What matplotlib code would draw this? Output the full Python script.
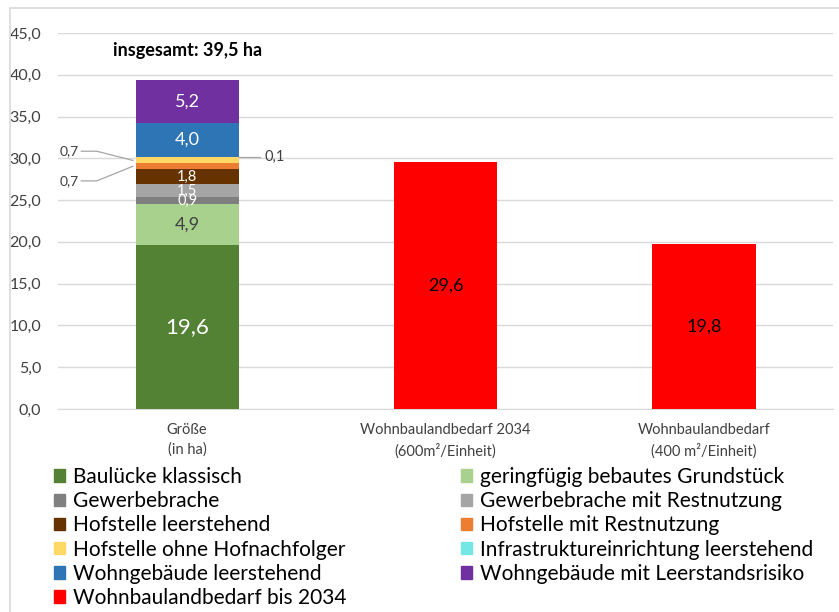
import matplotlib
matplotlib.use("Agg")
import matplotlib.pyplot as plt
from matplotlib.patches import Rectangle, Patch
import numpy as np

plt.rcParams['font.family'] = ['Lato', 'DejaVu Sans']

categories = ["Größe\n(in ha)", "Wohnbaulandbedarf 2034\n(600m²/Einheit)", "Wohnbaulandbedarf\n(400 m²/Einheit)"]
stack_names = ["Baulücke klassisch", "geringfügig bebautes Grundstück", "Gewerbebrache",
               "Gewerbebrache mit Restnutzung", "Hofstelle leerstehend", "Hofstelle mit Restnutzung",
               "Hofstelle ohne Hofnachfolger", "Infrastruktureinrichtung leerstehend",
               "Wohngebäude leerstehend", "Wohngebäude mit Leerstandsrisiko"]
stack_values = [19.6, 4.9, 0.9, 1.5, 1.8, 0.7, 0.7, 0.1, 4.0, 5.2]
stack_colors = ["#548235", "#A9D18E", "#7F7F7F", "#A5A5A5", "#663300", "#ED7D31",
                "#FFD966", "#75E6E6", "#2E75B6", "#7030A0"]
label_colors = ["white", "#404040", "white", "white", "white", None, None, None, "white", "white"]
label_sizes = [16, 13, 10.5, 10.5, 10.5, 0, 0, 0, 13, 13]
demand_name = "Wohnbaulandbedarf bis 2034"
demand_values = [29.6, 19.8]
demand_color = "#FF0000"
total_label = "insgesamt: 39,5 ha"
yticks = [0, 5, 10, 15, 20, 25, 30, 35, 40, 45]

fig = plt.figure(figsize=(8.39, 6.12), dpi=100)
ax = fig.add_axes([58/839, 1-409/612, (833-58)/839, (409-33)/612])

fmt = lambda v: f"{v:.1f}".replace(".", ",")

x = np.arange(len(categories))
width = 0.40
bottom = 0.0
for name, v, c, lc, ls in zip(stack_names, stack_values, stack_colors, label_colors, label_sizes):
    ax.bar(x[0], v, width, bottom=bottom, color=c, label=name, zorder=3)
    if lc is not None:
        ax.text(x[0], bottom + v/2, fmt(v), ha="center", va="center", color=lc, fontsize=ls, zorder=4)
    bottom += v

ax.bar(x[1:], demand_values, width, color=demand_color, label=demand_name, zorder=3)
for xi, v in zip(x[1:], demand_values):
    ax.text(xi, v/2, fmt(v), ha="center", va="center", color="black", fontsize=13, zorder=4)

# leader-line labels for small segments
cum = np.cumsum([0] + stack_values)
lc_gray = "#A6A6A6"
c6 = cum[6] + stack_values[6]/2
ax.plot([x[0]-width/2 - 0.21, x[0]-width/2 - 0.15, x[0]-width/2 - 0.01], [30.85, 30.85, c6],
        color=lc_gray, lw=0.9, zorder=4, clip_on=False)
ax.text(x[0]-width/2 - 0.22, 30.85, fmt(stack_values[6]), ha="right", va="center", color="#404040", fontsize=10)
c5 = cum[5] + stack_values[5]/2
ax.plot([x[0]-width/2 - 0.21, x[0]-width/2 - 0.15, x[0]-width/2 - 0.01], [27.3, 27.3, c5],
        color=lc_gray, lw=0.9, zorder=4, clip_on=False)
ax.text(x[0]-width/2 - 0.22, 27.3, fmt(stack_values[5]), ha="right", va="center", color="#404040", fontsize=10)
c7 = cum[7] + stack_values[7]/2
ax.plot([x[0]+width/2, x[0]+width/2 + 0.08], [c7, c7], color=lc_gray, lw=0.9, zorder=4)
ax.text(x[0]+width/2 + 0.10, c7, fmt(stack_values[7]), ha="left", va="center", color="#404040", fontsize=10.5)

ax.text(x[0], 42.9, total_label, ha="center", va="center", fontsize=13, fontweight="bold", color="black")

ax.set_xlim(-0.5, 2.5)
ax.set_ylim(0, 45)
ax.set_yticks(yticks)
ax.set_yticklabels([fmt(v) for v in yticks], fontsize=11.5, color="#404040")
ax.set_xticks(x)
ax.set_xticklabels(categories, fontsize=10.5, color="#404040", linespacing=1.5)
ax.tick_params(axis="both", length=0)
ax.tick_params(axis="x", pad=10)
ax.tick_params(axis="y", pad=12)
ax.grid(axis="y", color="#D9D9D9", lw=1, zorder=0)
for s in ["top", "right", "left"]:
    ax.spines[s].set_visible(False)
ax.spines["bottom"].set_color("#D9D9D9")

# legend (two columns, row-wise reading order)
col1 = [0, 2, 4, 6, 8]
col2 = [1, 3, 5, 7, 9]
handles = [Patch(color=stack_colors[i], label=stack_names[i]) for i in col1]
handles.append(Patch(color=demand_color, label=demand_name))
handles += [Patch(color=stack_colors[i], label=stack_names[i]) for i in col2]
leg = fig.legend(handles=handles, ncol=2, loc="upper left", bbox_to_anchor=(54/839, 1-467/612),
                 frameon=False, fontsize=15, handlelength=0.55, handleheight=0.55, handletextpad=0.35,
                 labelspacing=0.2, columnspacing=5.5, borderpad=0, borderaxespad=0)
for t in leg.get_texts():
    t.set_color("black")

fig.patches.append(Rectangle((10/839, -0.05), 1.2, 1 - 8/612 + 0.05, transform=fig.transFigure,
                             fill=False, edgecolor="#D9D9D9", lw=1.2))

fig.savefig("out.png", dpi=100)
